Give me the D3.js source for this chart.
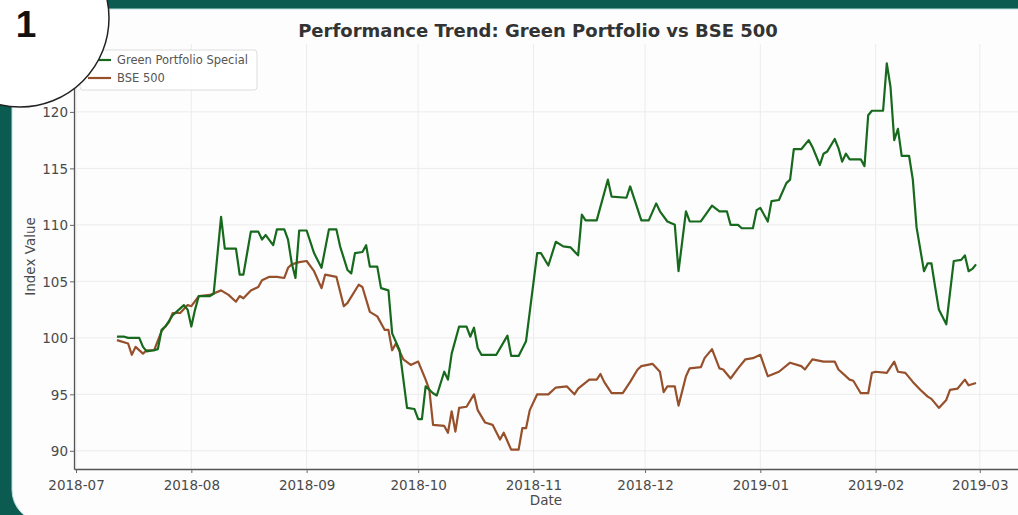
<!DOCTYPE html>
<html><head><meta charset="utf-8">
<script src="https://cdn.jsdelivr.net/npm/d3@7"></script>
<style>html,body{margin:0;padding:0;background:#0b5b50;overflow:hidden}svg{display:block}</style>
</head><body><svg id="c" width="1018" height="515"></svg>
<script>
const seriesNames = ["Green Portfolio Special", "BSE 500"];
const greenDates = ["2018-07-12","2018-07-14","2018-07-15","2018-07-18","2018-07-19","2018-07-20","2018-07-22","2018-07-23","2018-07-24","2018-07-25","2018-07-27","2018-07-28","2018-07-30","2018-07-31","2018-08-01","2018-08-02","2018-08-03","2018-08-06","2018-08-07","2018-08-09","2018-08-10","2018-08-13","2018-08-14","2018-08-15","2018-08-17","2018-08-19","2018-08-20","2018-08-21","2018-08-23","2018-08-24","2018-08-26","2018-08-27","2018-08-28","2018-08-29","2018-08-30","2018-09-01","2018-09-03","2018-09-05","2018-09-07","2018-09-09","2018-09-10","2018-09-12","2018-09-13","2018-09-14","2018-09-16","2018-09-17","2018-09-18","2018-09-20","2018-09-21","2018-09-23","2018-09-24","2018-09-26","2018-09-28","2018-09-30","2018-10-01","2018-10-02","2018-10-03","2018-10-05","2018-10-06","2018-10-08","2018-10-09","2018-10-10","2018-10-12","2018-10-14","2018-10-15","2018-10-16","2018-10-17","2018-10-18","2018-10-22","2018-10-25","2018-10-26","2018-10-28","2018-10-30","2018-11-02","2018-11-03","2018-11-05","2018-11-07","2018-11-09","2018-11-11","2018-11-13","2018-11-14","2018-11-15","2018-11-18","2018-11-21","2018-11-22","2018-11-26","2018-11-27","2018-11-30","2018-12-02","2018-12-04","2018-12-05","2018-12-07","2018-12-09","2018-12-10","2018-12-12","2018-12-13","2018-12-16","2018-12-19","2018-12-21","2018-12-23","2018-12-24","2018-12-26","2018-12-27","2018-12-30","2018-12-31","2019-01-01","2019-01-03","2019-01-04","2019-01-06","2019-01-08","2019-01-09","2019-01-10","2019-01-12","2019-01-14","2019-01-15","2019-01-17","2019-01-18","2019-01-19","2019-01-21","2019-01-22","2019-01-23","2019-01-24","2019-01-25","2019-01-28","2019-01-29","2019-01-30","2019-01-31","2019-02-03","2019-02-04","2019-02-05","2019-02-06","2019-02-07","2019-02-08","2019-02-10","2019-02-11","2019-02-12","2019-02-14","2019-02-15","2019-02-16","2019-02-17","2019-02-18","2019-02-20","2019-02-21","2019-02-22","2019-02-24","2019-02-25","2019-02-26","2019-02-27","2019-02-28"];
const greenValues = [100.1,100.1,100.0,100.0,99.2,98.8,98.9,99.0,100.7,101.0,102.0,102.3,102.9,102.5,101.0,102.5,103.7,103.7,103.9,110.7,107.9,107.9,105.6,105.6,109.4,109.4,108.7,109.1,108.2,109.6,109.6,108.7,106.6,105.3,109.5,109.5,107.5,106.2,109.6,109.6,108.1,106.0,105.7,107.5,107.6,108.2,106.3,106.3,104.4,104.2,100.4,98.9,93.8,93.7,92.8,92.8,95.7,95.1,94.9,97.0,96.3,98.6,101.0,101.0,100.1,100.9,99.1,98.5,98.5,100.2,98.4,98.4,99.7,107.5,107.5,106.4,108.5,108.1,108.0,107.3,110.9,110.4,110.4,114.0,112.5,112.4,113.4,110.4,110.4,111.9,111.2,110.3,110.0,105.9,111.2,110.3,110.3,111.7,111.2,111.2,110.0,110.0,109.7,109.7,111.3,111.5,110.3,112.1,112.2,113.7,114.0,116.7,116.7,117.5,116.9,115.3,116.3,116.5,117.6,116.8,115.6,116.3,115.8,115.8,115.2,119.7,120.1,120.1,124.3,122.2,117.5,118.5,116.1,116.1,114.0,109.8,105.9,106.6,106.6,104.5,102.5,101.2,104.0,106.8,106.9,107.3,105.9,106.1,106.5];
const bseDates = ["2018-07-12","2018-07-15","2018-07-16","2018-07-17","2018-07-19","2018-07-20","2018-07-22","2018-07-24","2018-07-26","2018-07-27","2018-07-29","2018-07-31","2018-08-01","2018-08-03","2018-08-06","2018-08-09","2018-08-11","2018-08-13","2018-08-14","2018-08-15","2018-08-17","2018-08-19","2018-08-20","2018-08-22","2018-08-24","2018-08-26","2018-08-27","2018-08-28","2018-08-30","2018-09-01","2018-09-03","2018-09-05","2018-09-06","2018-09-09","2018-09-11","2018-09-12","2018-09-15","2018-09-16","2018-09-18","2018-09-20","2018-09-22","2018-09-23","2018-09-24","2018-09-25","2018-09-27","2018-09-29","2018-10-01","2018-10-03","2018-10-04","2018-10-05","2018-10-08","2018-10-09","2018-10-10","2018-10-11","2018-10-12","2018-10-14","2018-10-16","2018-10-17","2018-10-19","2018-10-21","2018-10-23","2018-10-24","2018-10-26","2018-10-28","2018-10-29","2018-10-30","2018-10-31","2018-11-02","2018-11-05","2018-11-07","2018-11-10","2018-11-12","2018-11-13","2018-11-16","2018-11-18","2018-11-19","2018-11-20","2018-11-22","2018-11-25","2018-11-27","2018-11-29","2018-11-30","2018-12-03","2018-12-05","2018-12-06","2018-12-07","2018-12-09","2018-12-10","2018-12-12","2018-12-13","2018-12-16","2018-12-17","2018-12-19","2018-12-21","2018-12-22","2018-12-24","2018-12-26","2018-12-28","2018-12-30","2019-01-01","2019-01-03","2019-01-06","2019-01-09","2019-01-12","2019-01-13","2019-01-15","2019-01-18","2019-01-21","2019-01-22","2019-01-25","2019-01-26","2019-01-28","2019-01-30","2019-01-31","2019-02-01","2019-02-04","2019-02-06","2019-02-07","2019-02-09","2019-02-11","2019-02-13","2019-02-15","2019-02-16","2019-02-18","2019-02-20","2019-02-21","2019-02-23","2019-02-25","2019-02-26","2019-02-28"];
const bseValues = [99.8,99.5,98.5,99.2,98.6,98.9,98.9,100.6,101.4,102.2,102.2,102.9,102.8,103.7,103.8,104.2,103.8,103.2,103.7,103.5,104.2,104.5,105.1,105.4,105.4,105.3,106.2,106.5,106.7,106.8,105.9,104.4,105.6,105.4,102.8,103.1,104.7,104.5,102.3,101.9,100.7,100.7,98.9,99.5,98.1,97.6,97.9,96.3,95.4,92.3,92.2,91.6,93.5,91.7,93.8,93.9,95.0,93.6,92.5,92.3,91.0,91.6,90.1,90.1,92.0,92.0,93.6,95.0,95.0,95.6,95.7,95.0,95.5,96.3,96.3,96.8,96.1,95.1,95.1,96.1,97.2,97.5,97.7,97.0,95.2,95.7,95.7,94.0,96.6,97.3,97.4,98.2,99.0,97.3,97.2,96.4,97.3,98.1,98.2,98.5,96.6,97.0,97.8,97.5,97.2,98.1,97.9,97.9,97.2,96.3,96.2,95.1,95.1,96.9,97.0,96.9,97.9,97.0,96.9,96.1,95.4,94.8,94.6,93.8,94.5,95.4,95.5,96.3,95.8,96.0];
const xTickLabels = ["2018-07","2018-08","2018-09","2018-10","2018-11","2018-12","2019-01","2019-02","2019-03"];
const yTickValues = [90, 95, 100, 105, 110, 115, 120];
const titleText = "Performance Trend: Green Portfolio vs BSE 500";
const xLabel = "Date", yLabel = "Index Value", badgeText = "1";

const parse = d3.timeParse("%Y-%m-%d");
const parseM = d3.timeParse("%Y-%m");
const green = greenDates.map((d, i) => ({date: parse(d), value: greenValues[i]}));
const bse = bseDates.map((d, i) => ({date: parse(d), value: bseValues[i]}));
const all = green.concat(bse);

const svg = d3.select("#c");
const W = 1018, H = 515;
// frame
svg.append("rect").attr("width", W).attr("height", H).attr("fill", "#0b5b50");
svg.append("rect").attr("x", 12).attr("y", 9).attr("width", 1040).attr("height", 513)
  .attr("rx", 32).attr("fill", "#fdfdfd").attr("stroke", "#b9e0de").attr("stroke-width", 1);

const L = 74, R = 1019, T = 44, B = 469;
const [dmin, dmax] = d3.extent(all, d => d.date);
const dpad = (dmax - dmin) * 0.05;
const x = d3.scaleTime().domain([new Date(+dmin - dpad), new Date(+dmax + dpad)]).range([L, R]);
const [vmin, vmax] = d3.extent(all, d => d.value);
const vpad = (vmax - vmin) * 0.05;
const y = d3.scaleLinear().domain([vmin - vpad, vmax + vpad]).range([B, T]);

const xTicks = xTickLabels.map(parseM);
const g = svg.append("g");
// grid
g.selectAll(".gx").data(xTicks).join("line")
  .attr("x1", d => x(d)).attr("x2", d => x(d)).attr("y1", T).attr("y2", B)
  .attr("stroke", "#ececec").attr("stroke-width", 1);
g.selectAll(".gy").data(yTickValues).join("line")
  .attr("x1", L).attr("x2", R).attr("y1", d => y(d)).attr("y2", d => y(d))
  .attr("stroke", "#ececec").attr("stroke-width", 1);

const line = d3.line().x(d => x(d.date)).y(d => y(d.value));
g.append("path").datum(bse).attr("d", line).attr("fill", "none")
  .attr("stroke", "#96502c").attr("stroke-width", 2.2).attr("stroke-linejoin", "round");
g.append("path").datum(green).attr("d", line).attr("fill", "none")
  .attr("stroke", "#176a1d").attr("stroke-width", 2.2).attr("stroke-linejoin", "round");

// axes
const xAxis = d3.axisBottom(x).tickValues(xTicks).tickFormat(d3.timeFormat("%Y-%m")).tickSize(4).tickSizeOuter(0);
const yAxis = d3.axisLeft(y).tickValues(yTickValues).tickFormat(d3.format("d")).tickSize(4).tickSizeOuter(0);
const gx = svg.append("g").attr("transform", `translate(0,${B})`).call(xAxis);
const gy = svg.append("g").attr("transform", `translate(${L},0)`).call(yAxis);
[gx, gy].forEach(a => {
  a.select(".domain").attr("stroke", "#555").attr("stroke-width", 1.3);
  a.selectAll(".tick line").attr("stroke", "#666");
  a.selectAll("text").attr("font-family", "DejaVu Sans").attr("font-size", 13.5).attr("fill", "#4a4a4a");
});
gx.selectAll("text").attr("dy", "1.05em");
gy.selectAll("text").attr("x", -6).attr("dy", "0.36em");

svg.append("text").attr("x", 546).attr("y", 505).attr("text-anchor", "middle")
  .attr("font-family", "DejaVu Sans").attr("font-size", 13.5).attr("fill", "#4a4a4a").text(xLabel);
svg.append("text").attr("transform", `translate(35,${(T + B) / 2}) rotate(-90)`).attr("text-anchor", "middle")
  .attr("font-family", "DejaVu Sans").attr("font-size", 13.5).attr("fill", "#4a4a4a").text(yLabel);
svg.append("text").attr("x", 538).attr("y", 37).attr("text-anchor", "middle")
  .attr("font-family", "DejaVu Sans").attr("font-weight", "bold").attr("font-size", 18).attr("fill", "#333").text(titleText);

// legend
const lg = svg.append("g");
lg.append("rect").attr("x", 80).attr("y", 50).attr("width", 177).attr("height", 40).attr("rx", 3)
  .attr("fill", "#fff").attr("fill-opacity", 0.85).attr("stroke", "#dddddd");
const lcolors = ["#176a1d", "#96502c"];
seriesNames.forEach((n, i) => {
  const yy = 60 + i * 18;
  lg.append("line").attr("x1", 88).attr("x2", 111).attr("y1", yy).attr("y2", yy)
    .attr("stroke", lcolors[i]).attr("stroke-width", 2.2);
  lg.append("text").attr("x", 117).attr("y", yy).attr("dy", "0.35em")
    .attr("font-family", "DejaVu Sans").attr("font-size", 11.5).attr("fill", "#555").text(n);
});

// badge
svg.append("circle").attr("cx", 20).attr("cy", 18).attr("r", 89)
  .attr("fill", "#fff").attr("stroke", "#222").attr("stroke-width", 1.5);
svg.append("text").attr("x", 26).attr("y", 37).attr("text-anchor", "middle")
  .attr("font-family", "Liberation Sans").attr("font-weight", "bold").attr("font-size", 37).attr("fill", "#111").text(badgeText);
</script></body></html>
